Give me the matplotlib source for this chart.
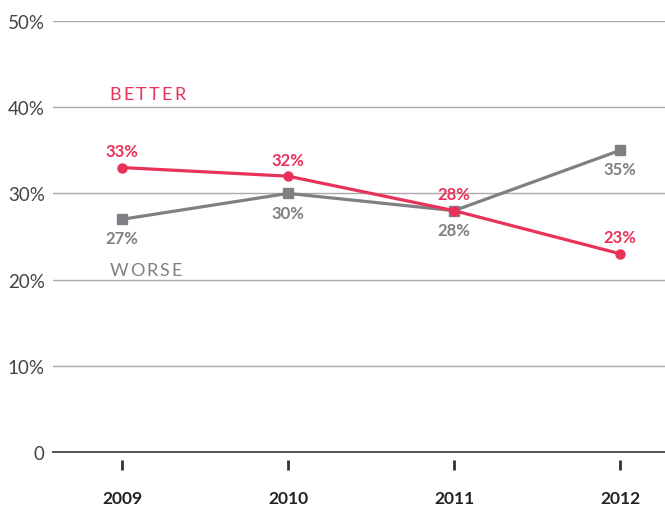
import matplotlib.pyplot as plt

years = ["2009", "2010", "2011", "2012"]
better = [33, 32, 28, 23]
worse = [27, 30, 28, 35]
y_ticks = [0, 10, 20, 30, 40, 50]
y_tick_labels = ["0", "10%", "20%", "30%", "40%", "50%"]

RED = "#e8325a"
GRAY = "#808084"

plt.rcParams["font.family"] = ["Lato", "DejaVu Sans"]


def spaced_text(fig, ax, x, y, s, color, size, tracking):
    """Draw letter-spaced text, one character at a time"""
    renderer = fig.canvas.get_renderer()
    offset = 0.0
    for ch in s:
        t = ax.annotate(ch, (x, y), xytext=(offset, 0), textcoords="offset points",
                        color=color, fontsize=size, va="center", ha="left")
        w = t.get_window_extent(renderer).width * 72 / fig.dpi
        offset += w + tracking


fig = plt.figure(figsize=(6.65, 5.06), dpi=100)
ax = fig.add_axes([0.0797, 0.1047, 0.9203, 0.8518])

xs = list(range(len(years)))
ax.plot(xs, worse, color=GRAY, lw=2.3, marker="s", ms=6.5, zorder=3)
ax.plot(xs, better, color=RED, lw=2.3, marker="o", ms=6.5, zorder=4)

for x, b, w in zip(xs, better, worse):
    ax.annotate(f"{b}%", (x, b), xytext=(0, 6), textcoords="offset points",
                ha="center", va="bottom", color=RED, fontsize=12, fontweight="bold")
    ax.annotate(f"{w}%", (x, w), xytext=(0, -8), textcoords="offset points",
                ha="center", va="top", color=GRAY, fontsize=12, fontweight="bold")

ax.set_xlim(-0.416, 3.27)
ax.set_ylim(0, 50)

spaced_text(fig, ax, -0.075, 41.5, "BETTER", RED, 13, 1.6)
spaced_text(fig, ax, -0.075, 21.1, "WORSE", GRAY, 13, 1.4)

# separate tick marks below the axis
ax.plot(xs, [-1.5] * len(xs), ls="none", marker="|", ms=7, mew=2,
        color="#333333", clip_on=False)

ax.set_yticks(y_ticks)
ax.set_yticklabels(y_tick_labels)
ax.set_xticks(xs)
ax.set_xticklabels(years, fontweight="bold")
ax.tick_params(axis="x", length=0, pad=27, labelsize=12.5, labelcolor="#222222")
ax.tick_params(axis="y", length=0, pad=6, labelsize=13.5, labelcolor="#444444")

ax.grid(axis="y", color="#aaaaaa", lw=1)
ax.axhline(0, color="#444444", lw=1.3, clip_on=False)
for side in ["top", "right", "left", "bottom"]:
    ax.spines[side].set_visible(False)

plt.savefig("out.png", dpi=100)
